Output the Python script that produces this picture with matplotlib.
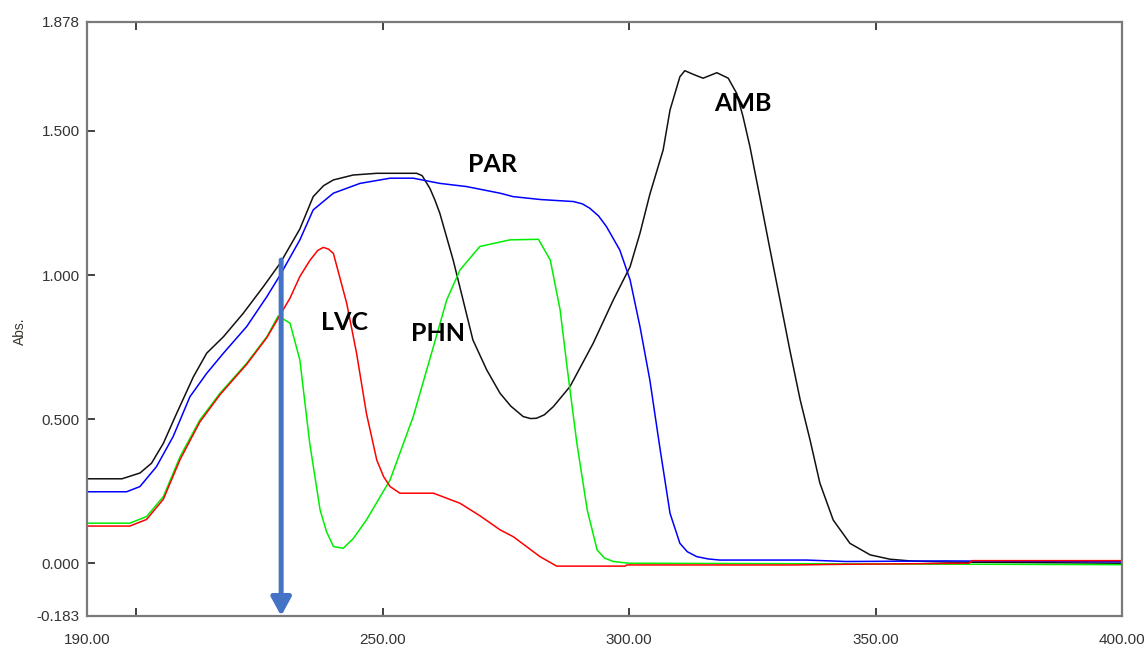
import matplotlib
matplotlib.use("Agg")
import matplotlib.pyplot as plt

# wavelength (nm) / absorbance
amb_x = [190, 197.1, 200.75, 203.1, 205.5, 208.2, 211.6, 214.3, 217.7, 221.7, 225.8, 229.2,
         233.2, 235.9, 238, 240, 244, 248.8, 256.9, 258.0, 259.6, 260.6, 261.6, 264.3, 266.3,
         268.3, 271.1, 273.8, 276, 278.5, 280, 281.2, 282.8, 284.6, 288, 292.7, 296.8, 300.2,
         302.2, 304.2, 306.9, 308.3, 310.3, 311.3, 313.2, 315, 317.8, 320.1, 321.8, 323.1,
         324.5, 326.5, 328.6, 330.6, 332.6, 334.7, 336.7, 338.7, 341.4, 344.8, 348.9, 352.9,
         357, 365, 400]
amb_y = [0.293, 0.293, 0.313, 0.347, 0.416, 0.52, 0.647, 0.729, 0.786, 0.867, 0.96, 1.041,
         1.16, 1.272, 1.31, 1.33, 1.347, 1.353, 1.353, 1.345, 1.30, 1.26, 1.214, 1.052, 0.914,
         0.775, 0.671, 0.59, 0.545, 0.509, 0.502, 0.503, 0.515, 0.543, 0.613, 0.763, 0.914, 1.029,
         1.145, 1.28, 1.434, 1.573, 1.688, 1.709, 1.695, 1.683, 1.702, 1.683, 1.631, 1.55,
         1.446, 1.272, 1.087, 0.914, 0.74, 0.567, 0.428, 0.278, 0.150, 0.069, 0.029, 0.014,
         0.008, 0.004, 0.0]

par_x = [190, 198.05, 200.75, 204.1, 207.5, 210.9, 214.3, 217.7, 222.4, 226.5, 229.2, 233.2,
         235.9, 240, 245.4, 251.5, 256.2, 261.6, 267, 273.8, 276.5, 282, 288.7, 290.5, 292,
         293.8, 295.4, 298.1, 300.2, 302.2, 304.2, 306.2, 308.3, 310.3, 311.8, 313.7, 316,
         318.4, 336, 344, 364, 400]
par_y = [0.248, 0.248, 0.266, 0.335, 0.44, 0.578, 0.659, 0.729, 0.821, 0.925, 1.0, 1.122,
         1.226, 1.284, 1.318, 1.336, 1.336, 1.318, 1.307, 1.284, 1.272, 1.262, 1.255, 1.247, 1.232,
         1.205, 1.168, 1.087, 0.983, 0.821, 0.636, 0.405, 0.173, 0.069, 0.040, 0.023, 0.015,
         0.011, 0.011, 0.006, 0.008, 0.005]

lvc_x = [190, 198.7, 202.1, 205.5, 208.9, 212.9, 217, 222.4, 226.5, 228.8, 231.2, 233.2,
         235.2, 236.8, 237.95, 239, 240, 242.7, 244.7, 246.7, 248.8, 250.2, 251.5, 253.5, 260.3,
         265.7, 269.7, 273.8, 276.5, 281.9, 285.3, 299.2, 299.5, 333.3, 342, 369, 369.5, 400]
lvc_y = [0.129, 0.129, 0.152, 0.222, 0.36, 0.49, 0.585, 0.69, 0.783, 0.85, 0.92, 0.995,
         1.05, 1.085, 1.096, 1.09, 1.075, 0.902, 0.729, 0.52, 0.358, 0.30, 0.266, 0.243, 0.243,
         0.208, 0.165, 0.116, 0.092, 0.023, -0.01, -0.01, -0.006, -0.006, -0.004, 0.0, 0.009, 0.009]

phn_x = [190, 198.7, 202.1, 205.5, 208.9, 212.9, 217, 222.4, 226.5, 228.8, 231.2, 233.2,
         235.2, 237.3, 238.6, 240, 242, 244, 246.7, 251.5, 256.2, 260.3, 263, 265.7, 269.7,
         275.8, 281.6, 284, 286, 287.4, 289.4, 291.5, 293.5, 295, 296.8, 300, 340, 400]
phn_y = [0.139, 0.139, 0.162, 0.231, 0.37, 0.497, 0.59, 0.694, 0.786, 0.858, 0.833, 0.705,
         0.416, 0.185, 0.11, 0.058, 0.052, 0.085, 0.150, 0.289, 0.509, 0.752, 0.914, 1.018,
         1.099, 1.122, 1.124, 1.052, 0.879, 0.682, 0.416, 0.185, 0.046, 0.018, 0.006, 0.0,
         -0.002, -0.005]

labels = ["AMB", "PAR", "LVC", "PHN"]
label_pos = [(323.1, 1.594), (272.2, 1.382), (242.3, 0.835), (261.3, 0.796)]

xticks = [190, 200, 250, 300, 350, 400]
xticklabels = ["190.00", "", "250.00", "300.00", "350.00", "400.00"]
yticks = [-0.183, 0.0, 0.5, 1.0, 1.5, 1.878]
yticklabels = ["-0.183", "0.000", "0.500", "1.000", "1.500", "1.878"]

arrow_x = 229.4
arrow_top = 1.052

fig = plt.figure(figsize=(11.44, 6.45), dpi=100)
ax = fig.add_axes([0.076, 0.045, 0.9048, 0.9209])

ax.plot(amb_x, amb_y, color="#111111", lw=1.1)
ax.plot(par_x, par_y, color="#0000ff", lw=1.1)
ax.plot(phn_x, phn_y, color="#00ee00", lw=1.1)
ax.plot(lvc_x, lvc_y, color="#ff0000", lw=1.1)

for txt, (lx, ly) in zip(labels, label_pos):
    ax.text(lx, ly, txt, ha="center", va="center", fontsize=18,
            fontweight="bold", family="Lato", color="black")

ax.annotate("", xy=(arrow_x, -0.183), xytext=(arrow_x, arrow_top),
            arrowprops=dict(arrowstyle="-|>,head_length=0.55,head_width=0.3",
                            mutation_scale=20, color="#4472C4", lw=3.6,
                            shrinkA=0, shrinkB=0))

ax.set_xlim(190, 400)
ax.set_ylim(-0.183, 1.878)
ax.set_xticks(xticks)
ax.set_xticklabels(xticklabels)
ax.set_yticks(yticks)
ax.set_yticklabels(yticklabels)
for lab in ax.get_xticklabels() + ax.get_yticklabels():
    lab.set_family("Liberation Sans")
    lab.set_fontsize(11)
    lab.set_color("#333333")

ax.tick_params(axis="x", direction="in", length=6, width=1.3, color="#333333",
               top=True, pad=12)
ax.tick_params(axis="y", direction="in", length=6, width=1.3, color="#333333", pad=5)
for s in ax.spines.values():
    s.set_color("#7a7a7a")
    s.set_linewidth(1.6)

fig.text(20 / 1144, 1 - 331 / 645, "Abs.", rotation=90, ha="center", va="center",
         fontsize=10, family="Liberation Sans", color="#3a3530")

fig.savefig("out.png", dpi=100)
